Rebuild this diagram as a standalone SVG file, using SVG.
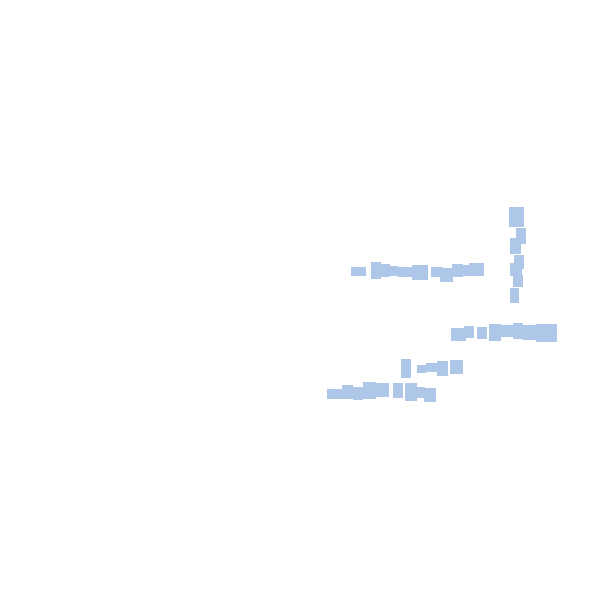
<svg xmlns="http://www.w3.org/2000/svg" width="600" height="600" viewBox="0 0 600 600">
<style>rect.b{fill:#aec7e8}</style>
<rect width="600" height="600" fill="#fff"/>
<g id="row1">
<rect class="b" x="351" y="267" width="15" height="9"/>
<rect class="b" x="371" y="262" width="10" height="17"/>
<rect class="b" x="381" y="264" width="9" height="13"/>
<rect class="b" x="390" y="266" width="8" height="10"/>
<rect class="b" x="398" y="267" width="14" height="10"/>
<rect class="b" x="412" y="265" width="16" height="15"/>
<rect class="b" x="431" y="267" width="12" height="10"/>
<rect class="b" x="440" y="268" width="13" height="14"/>
<rect class="b" x="452" y="264" width="11" height="13"/>
<rect class="b" x="460" y="265" width="10" height="11"/>
<rect class="b" x="469" y="263" width="15" height="13"/>
</g>
<g id="col">
<rect class="b" x="509" y="207" width="15" height="20"/>
<rect class="b" x="516" y="228" width="10" height="16"/>
<rect class="b" x="510" y="238" width="11" height="16"/>
<rect class="b" x="514" y="255" width="10" height="14"/>
<rect class="b" x="510" y="263" width="12" height="13"/>
<rect class="b" x="513" y="275" width="10" height="12"/>
<rect class="b" x="510" y="288" width="9" height="15"/>
</g>
<g id="row2">
<rect class="b" x="451" y="328" width="15" height="13"/>
<rect class="b" x="464" y="326" width="10" height="12"/>
<rect class="b" x="477" y="327" width="10" height="12"/>
<rect class="b" x="489" y="324" width="12" height="17"/>
<rect class="b" x="501" y="325" width="12" height="12"/>
<rect class="b" x="513" y="323" width="10" height="16"/>
<rect class="b" x="522" y="325" width="15" height="15"/>
<rect class="b" x="536" y="324" width="21" height="18"/>
</g>
<g id="row3">
<rect class="b" x="401" y="359" width="10" height="19"/>
<rect class="b" x="417" y="365" width="9" height="8"/>
<rect class="b" x="426" y="363" width="11" height="9"/>
<rect class="b" x="437" y="361" width="11" height="15"/>
<rect class="b" x="450" y="360" width="13" height="14"/>
</g>
<g id="row4">
<rect class="b" x="327" y="389" width="15" height="10"/>
<rect class="b" x="342" y="385" width="11" height="14"/>
<rect class="b" x="353" y="387" width="10" height="13"/>
<rect class="b" x="363" y="382" width="13" height="17"/>
<rect class="b" x="376" y="383" width="13" height="14"/>
<rect class="b" x="393" y="383" width="10" height="15"/>
<rect class="b" x="405" y="383" width="12" height="18"/>
<rect class="b" x="417" y="387" width="8" height="11"/>
<rect class="b" x="424" y="388" width="12" height="14"/>
</g>
</svg>
